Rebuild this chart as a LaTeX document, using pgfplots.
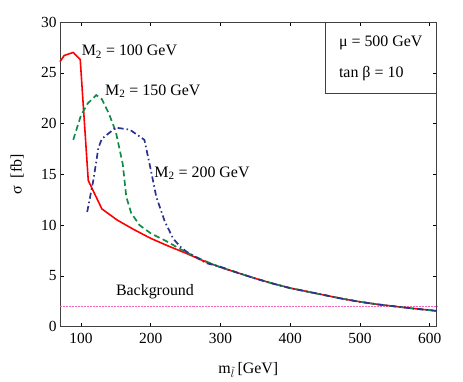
\documentclass[border=0pt]{standalone}
\usepackage{fontspec}
\setmainfont{Liberation Serif}
\usepackage{pgfplots}
\pgfplotsset{compat=1.18}
\definecolor{cgreen}{RGB}{16,140,70}
\definecolor{cblue}{RGB}{40,50,145}
\begin{document}
\begin{tikzpicture}
\path[use as bounding box] (-60bp,-55.3bp) rectangle (403bp,326.7bp);
\begin{axis}[
  at={(0,0)}, anchor=south west,
  scale only axis, width=376.7bp, height=304.7bp,
  xmin=70, xmax=610, ymin=0, ymax=30,
  xtick={100,200,...,600}, ytick={0,5,...,30},
  tick align=inside, major tick length=4bp,
  tick style={black, line width=0.5pt},
  axis line style={line width=0.6pt, black!75},
  /pgf/number format/assume math mode=true,
  tick label style={font=\fontsize{15.5}{18}\selectfont},
  xticklabel style={yshift=-3bp},
  label style={font=\fontsize{16}{18}\selectfont},
  xlabel={m$_{\tilde{l}}$\,[GeV]},
  ylabel={σ\ \ [fb]},
  xlabel style={at={(axis description cs:0.5,-0.141)},anchor=center},
  ylabel style={at={(axis description cs:-0.114,0.5)},anchor=center},
  clip=false,
]
% background
\addplot[magenta!60, densely dotted, line width=0.5pt] coordinates {(70,2.0) (610,2.0)};
% M2 = 100
\addplot[red, line width=1.6pt] coordinates {
(70,26.1) (76,26.7) (89,27.0) (99,26.3) (110.5,14.4) (130,11.6) (152,10.5) (175,9.6) (200,8.7)
(225,7.95) (250,7.25) (275,6.5) (300,5.85) (325,5.3) (350,4.75) (375,4.25) (400,3.8)
(425,3.45) (450,3.1) (475,2.75) (500,2.45) (525,2.2) (550,2.0) (575,1.8) (600,1.63) (610,1.55)};
% M2 = 150
\addplot[cgreen, line width=1.7pt, dash pattern=on 6bp off 3.5bp] coordinates {
(89,18.4) (100,20.8) (110,22.0) (122,22.8) (130,22.4) (140,21.0) (150,19.2) (160,16.0)
(165,12.8) (172,11.2) (184,10.0) (200,9.2) (223,8.4) (250,7.35) (275,6.55) (300,5.85)
(325,5.3) (350,4.75) (375,4.25) (400,3.8) (425,3.45) (450,3.1) (475,2.75) (500,2.45)
(525,2.2) (550,2.0) (575,1.8) (600,1.63) (610,1.55)};
% M2 = 200
\addplot[cblue, line width=1.7pt, dash pattern=on 6bp off 3bp on 1.5bp off 3bp] coordinates {
(109,11.3) (118,14.5) (125,17.6) (130,18.5) (150,19.6) (170,19.4) (191,18.4) (200,15.5)
(208,12.8) (220,10.4) (232,8.7) (242,7.9) (251,7.4) (280,6.25) (300,5.9) (325,5.3)
(350,4.75) (375,4.25) (400,3.8) (425,3.45) (450,3.1) (475,2.75) (500,2.45) (525,2.2)
(550,2.0) (575,1.8) (600,1.63) (610,1.55)};
\node[anchor=west, font=\fontsize{16}{18}\selectfont, inner sep=0pt] at (axis cs:101,27.1) {M\textsubscript{2} = 100 GeV};
\node[anchor=west, font=\fontsize{16}{18}\selectfont, inner sep=0pt] at (axis cs:134.5,23.2) {M\textsubscript{2} = 150 GeV};
\node[anchor=west, font=\fontsize{16}{18}\selectfont, inner sep=0pt] at (axis cs:205,15.1) {M\textsubscript{2} = 200 GeV};
\node[anchor=west, font=\fontsize{16}{18}\selectfont, inner sep=0pt] at (axis cs:150,3.45) {Background};
\draw[black!75, line width=0.6pt] (axis cs:450.7,30) -- (axis cs:450.7,23.0) -- (axis cs:610,23.0);
\node[anchor=west, font=\fontsize{16}{18}\selectfont, inner sep=0pt] at (axis cs:469.7,27.9) {μ = 500 GeV};
\node[anchor=west, font=\fontsize{16}{18}\selectfont, inner sep=0pt] at (axis cs:469.7,24.97) {tan β = 10};
\end{axis}
\end{tikzpicture}
\end{document}
